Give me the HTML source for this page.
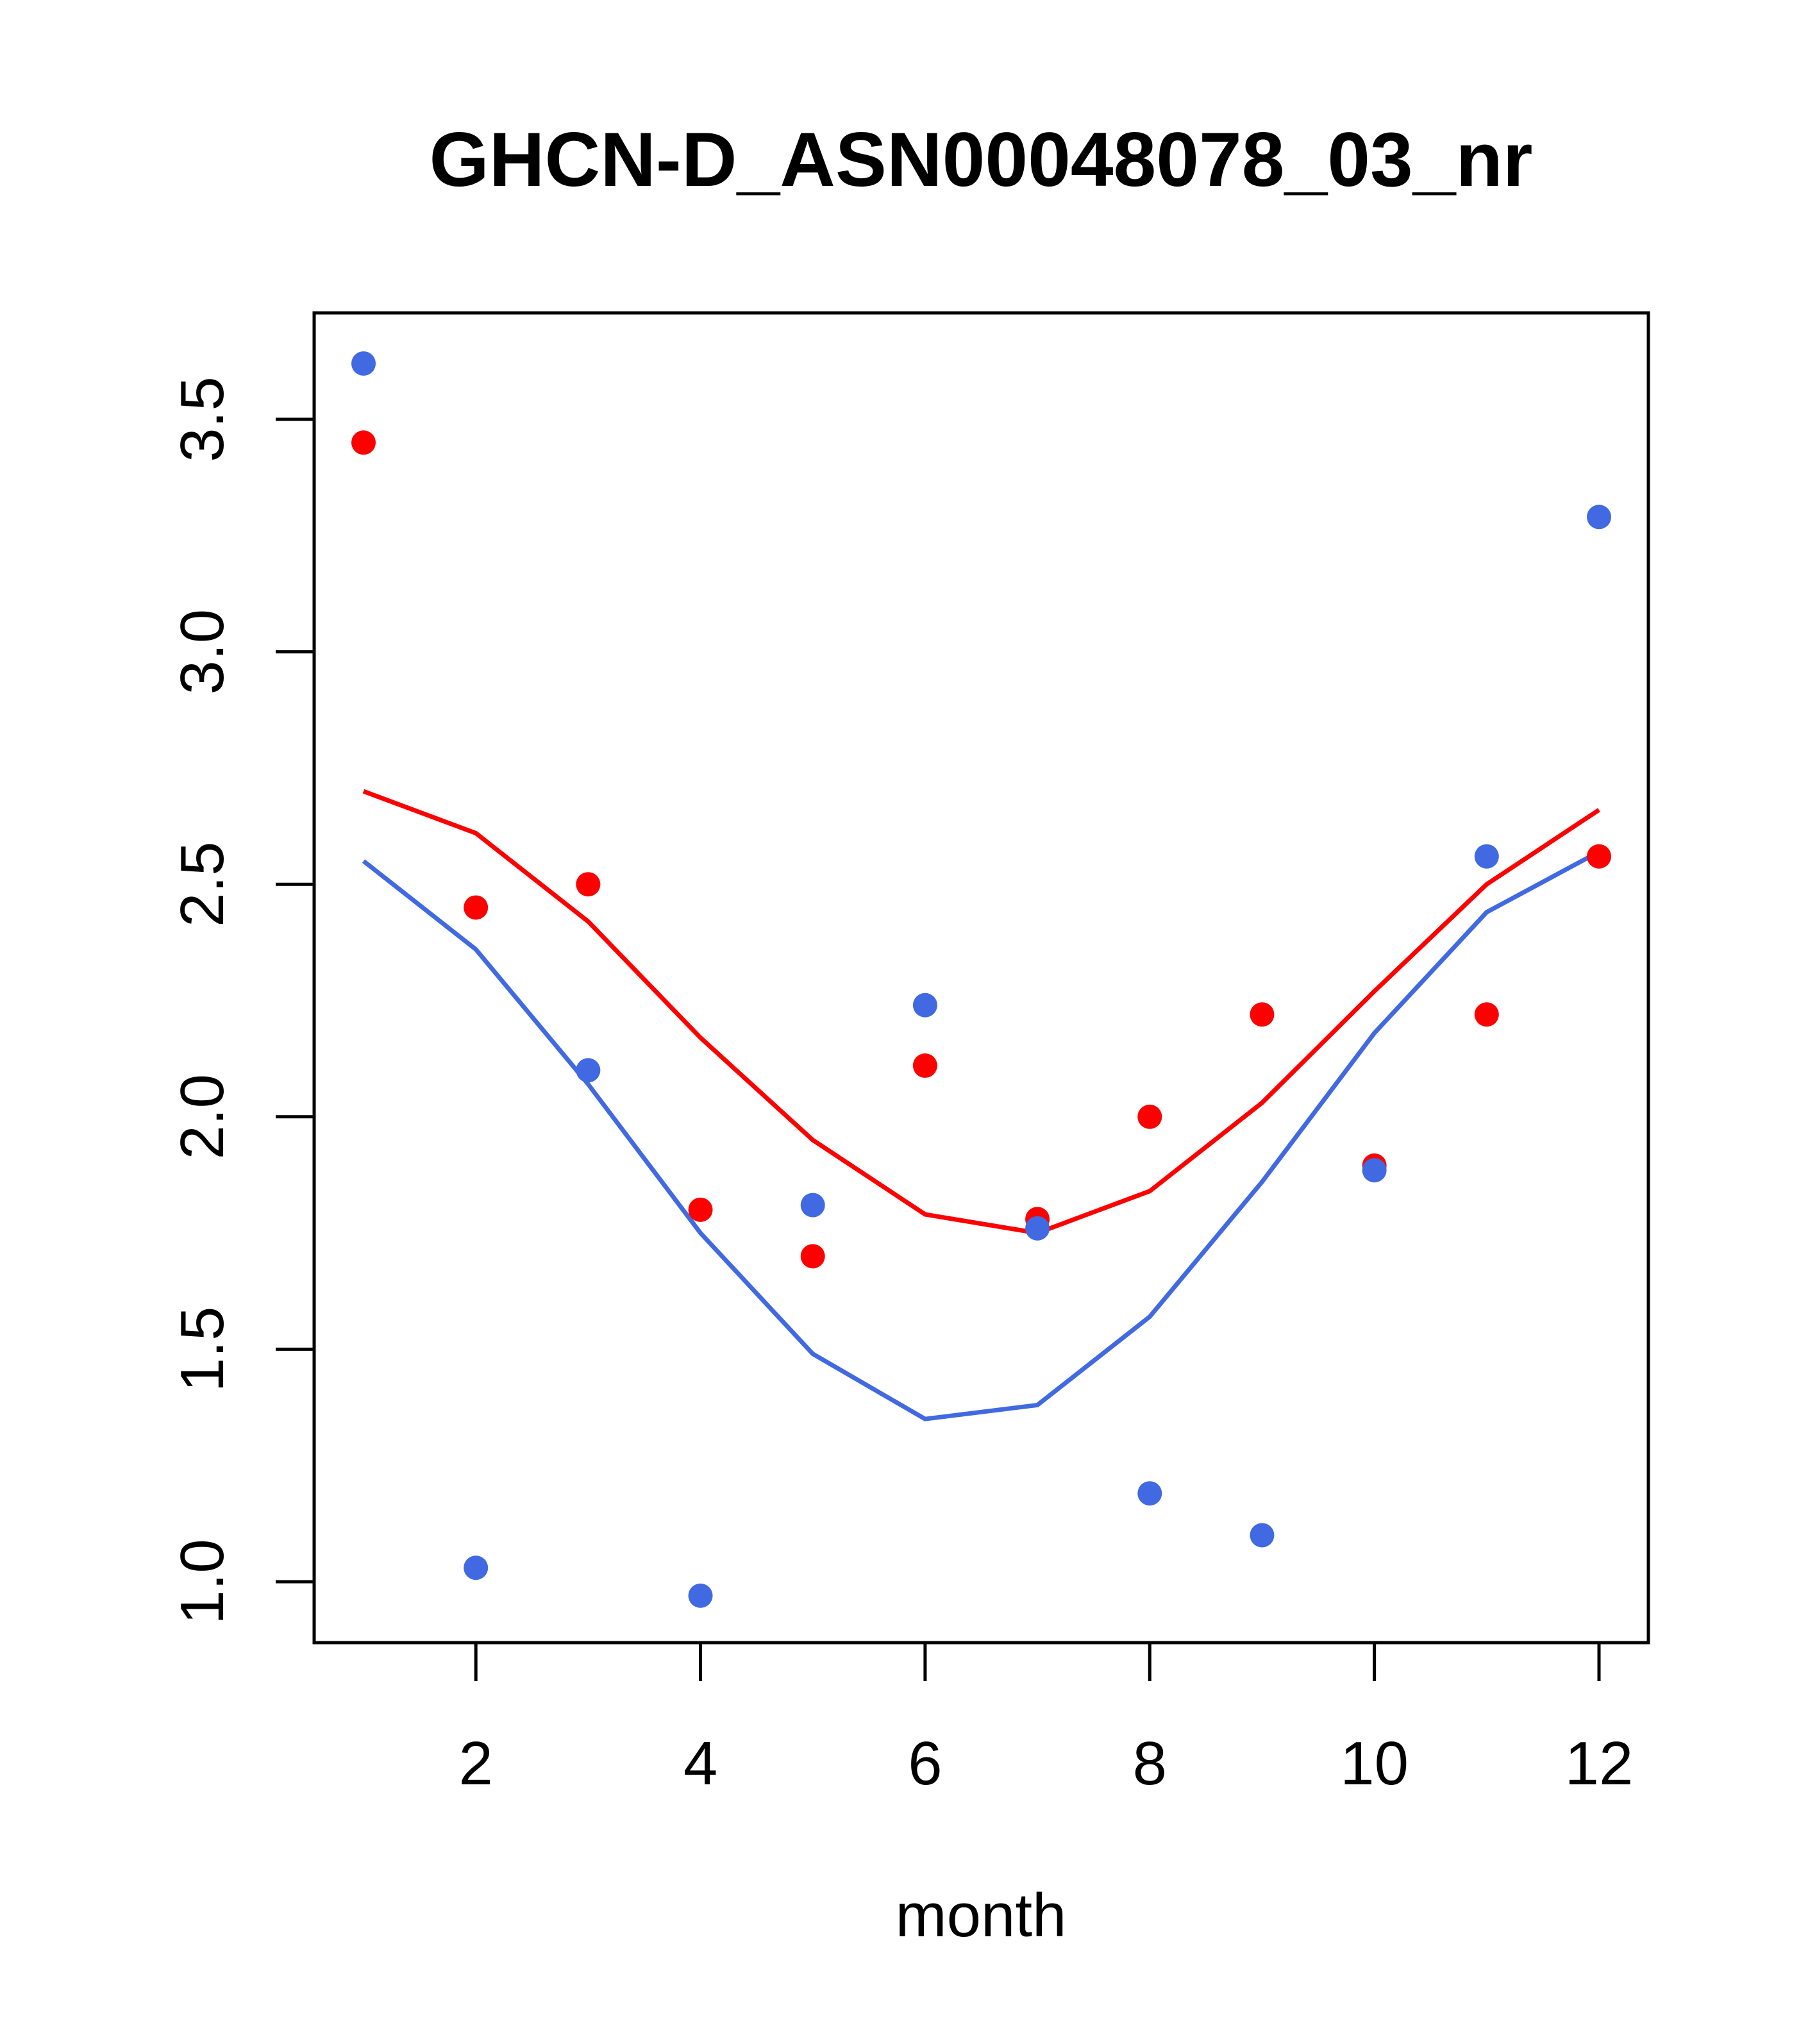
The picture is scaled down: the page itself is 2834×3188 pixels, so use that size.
<!DOCTYPE html>
<html><head><meta charset="utf-8"><style>html,body{margin:0;padding:0;background:#fff}svg{display:block}</style></head>
<body>
<svg id="chart" width="2834" height="3188" xmlns="http://www.w3.org/2000/svg" font-family="Liberation Sans, Arial, sans-serif">
<rect width="2834" height="3188" fill="#fff"/>
<text x="1530" y="290" font-size="120" font-weight="bold" text-anchor="middle">GHCN-D_ASN00048078_03_nr</text>
<text x="1530" y="3020" font-size="96" text-anchor="middle">month</text>
<g id="plot"></g>
</svg>
<script>
const months=[1,2,3,4,5,6,7,8,9,10,11,12];
const bluePoints=[3.62,1.03,2.10,0.97,1.81,2.24,1.76,1.19,1.10,1.885,2.56,3.29];
const redPoints=[3.45,2.45,2.50,1.80,1.70,2.11,1.78,2.00,2.22,1.895,2.22,2.56];
const redLine=[2.70,2.61,2.42,2.17,1.95,1.79,1.75,1.84,2.03,2.27,2.50,2.66];
const blueLine=[2.55,2.36,2.07,1.75,1.49,1.35,1.38,1.57,1.86,2.18,2.44,2.57];
const xTicks=[2,4,6,8,10,12];
const yTicks=[1.0,1.5,2.0,2.5,3.0,3.5];
const yTickLabels=["1.0","1.5","2.0","2.5","3.0","3.5"];

const L=490,R=2571,T=488,B=2562;
const x=m=>567+(m-1)*(2494-567)/11;
const y=v=>2467-(v-1)*(2467-654)/2.5;
const NS="http://www.w3.org/2000/svg";
const g=document.getElementById('plot');
function mk(tag,attrs){const e=document.createElementNS(NS,tag);for(const k in attrs)e.setAttribute(k,attrs[k]);g.appendChild(e);return e;}

let e=mk('rect',{x:L,y:T,width:R-L,height:B-T,fill:'none',stroke:'#000','stroke-width':5});



xTicks.forEach(t=>{
 let l=mk('line',{x1:x(t),x2:x(t),y1:B,y2:B+60,stroke:'#000','stroke-width':5});
 
 
 let tx=mk('text',{x:x(t),y:2783,'font-size':96,'text-anchor':'middle'});tx.textContent=t;
 
 
});
yTicks.forEach((t,i)=>{
 let l=mk('line',{x1:L-60,x2:L,y1:y(t),y2:y(t),stroke:'#000','stroke-width':5});
 
 
 let tx=mk('text',{x:0,y:0,'font-size':96,'text-anchor':'middle',transform:`translate(348,${y(t)}) rotate(-90)`});tx.textContent=yTickLabels[i];
 
 
});

function line(vals,col,name){
 let p=mk('polyline',{points:months.map((m,i)=>x(m)+','+y(vals[i])).join(' '),fill:'none',stroke:col,'stroke-width':7});
 
 
}
line(redLine,'#ff0000','red-line');
line(blueLine,'#4169e1','blue-line');
function pts(vals,col,name){
 months.forEach((m,i)=>{
  let c=mk('circle',{cx:x(m),cy:y(vals[i]),r:19,fill:col});
  
  
 });
}
pts(redPoints,'#ff0000','red-point');
pts(bluePoints,'#4169e1','blue-point');
</script>
</body></html>
